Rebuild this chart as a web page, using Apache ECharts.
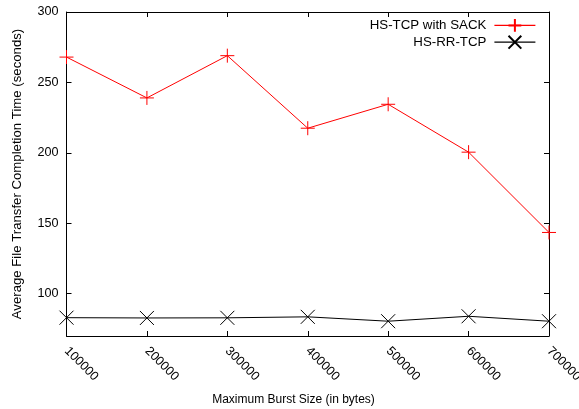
<!DOCTYPE html>
<html><head><meta charset="utf-8">
<script src="https://cdn.jsdelivr.net/npm/echarts@6/dist/echarts.min.js"></script>
<style>html,body{margin:0;padding:0;background:#fff}#c{width:579px;height:409px}</style>
</head><body><div id="c"></div>
<script>
var burstSizes = [100000, 200000, 300000, 400000, 500000, 600000, 700000];
var hsTcpSack = [268, 239, 269, 217.5, 234.5, 200.5, 143.5];
var hsRrTcp = [83, 82.8, 82.9, 83.6, 80.5, 84, 80.5];
var yTicks = [100, 150, 200, 250, 300];

var FONT = '"Liberation Sans", Arial, sans-serif';
var plusPath = 'path://M5,0L5,10M0,5L10,5';
var crossPath = 'path://M0,0L10,10M0,10L10,0';

function pairs(xs, ys){ return xs.map(function(x,i){ return [x, ys[i]]; }); }

var chart = echarts.init(document.getElementById('c'), null, {renderer:'canvas'});
var axisLine = {show:true, lineStyle:{color:'#000', width:1}};
chart.setOption({
  animation:false,
  backgroundColor:'#fff',
  textStyle:{fontFamily:FONT},
  grid:{left:66.5, right:30, top:12, bottom:73, containLabel:false, outerBoundsMode:'none'},
  legend:{
    orient:'vertical', right:38, top:13, align:'right', itemGap:2,
    itemWidth:41, itemHeight:16,
    lineStyle:{width:1.2},
    textStyle:{fontFamily:FONT, fontSize:13.3, color:'#000', padding:[0,3,0,0]},
    data:['HS-TCP with SACK','HS-RR-TCP']
  },
  xAxis:[{
    type:'value', min:100000, max:700000, interval:100000, position:'bottom',
    name:'Maximum Burst Size (in bytes)', nameLocation:'middle', nameGap:58,
    nameTextStyle:{fontFamily:FONT, fontSize:12, color:'#000', padding:[0,28.5,0,0]},
    axisLine:axisLine, splitLine:{show:false},
    axisTick:{inside:true, length:5, lineStyle:{color:'#000'}},
    axisLabel:{rotate:-45, fontFamily:FONT, fontSize:12.6, color:'#000', margin:13,
      formatter:function(v){ return String(v); }}
  },{
    type:'value', min:100000, max:700000, interval:100000, position:'top',
    axisLine:axisLine, splitLine:{show:false},
    axisTick:{inside:true, length:5, lineStyle:{color:'#000'}},
    axisLabel:{show:false}
  }],
  yAxis:[{
    type:'value', min:70, max:300, position:'left',
    name:'Average File Transfer Completion Time (seconds)', nameLocation:'middle', nameGap:43,
    nameTextStyle:{fontFamily:FONT, fontSize:13.2, color:'#000'},
    axisLine:axisLine, splitLine:{show:false},
    axisTick:{inside:true, length:5, lineStyle:{color:'#000'}, customValues:yTicks},
    axisLabel:{fontFamily:FONT, fontSize:12.6, color:'#000', margin:8, customValues:yTicks}
  },{
    type:'value', min:70, max:300, position:'right',
    axisLine:axisLine, splitLine:{show:false},
    axisTick:{inside:true, length:5, lineStyle:{color:'#000'}, customValues:yTicks},
    axisLabel:{show:false, customValues:yTicks}
  }],
  series:[{
    name:'HS-TCP with SACK', type:'line', xAxisIndex:0, yAxisIndex:0,
    data:pairs(burstSizes, hsTcpSack),
    symbol:plusPath, symbolSize:14, showAllSymbol:true,
    lineStyle:{color:'#ff0000', width:1},
    itemStyle:{color:'#ff0000', borderColor:'#ff0000', borderWidth:1}
  },{
    name:'HS-RR-TCP', type:'line', xAxisIndex:0, yAxisIndex:0,
    data:pairs(burstSizes, hsRrTcp),
    symbol:crossPath, symbolSize:14, showAllSymbol:true,
    lineStyle:{color:'#000', width:1},
    itemStyle:{color:'#000', borderColor:'#000', borderWidth:1}
  }]
});
</script></body></html>
